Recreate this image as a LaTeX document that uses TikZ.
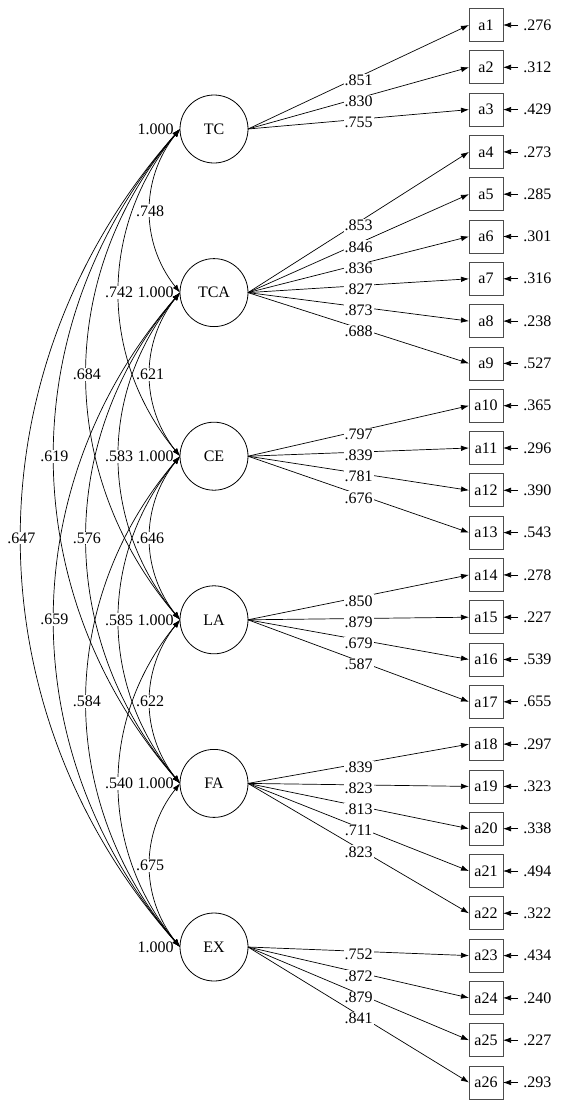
\documentclass[tikz,border=0pt]{standalone}
\usepackage{fontspec}
\setmainfont{Liberation Serif}
\usetikzlibrary{arrows.meta}

\tikzset{
	latent/.style={circle, draw, line width=0.8pt, minimum size=68pt, inner sep=0pt, outer sep=0pt},
	obs/.style={rectangle, draw=black!70, line width=0.8pt, minimum width=34pt, minimum height=33pt, inner sep=0pt, outer sep=0pt},
	load/.style={pos=0.5, fill=white, inner sep=1pt, yshift=-3.5pt},
	cov/.style={pos=0.5, fill=white, inner sep=1pt},
	errlab/.style={anchor=west, inner xsep=5pt, inner ysep=1pt},
	varlab/.style={anchor=east, inner sep=1pt, xshift=-5pt}
}

\begin{document}
\begin{tikzpicture}[x=1pt, y=-1pt, >={Latex[length=8pt,width=5.5pt]}, line width=0.7pt,
	font=\fontsize{16}{18}\selectfont]
	\useasboundingbox (0,0) rectangle (564,1109);
	\def\dy{163.6} % spacing of the factors
	\def\oy{42.3}  % spacing of the items

	% --- factors ---
	\foreach \n [count=\i] in {TC,TCA,CE,LA,FA,EX}
		\node[latent] (\n) at (214,{129+\dy*(\i-1)}) {\n};

	% --- items ---
	\foreach \i in {1,...,26}
		\node[obs] (a\i) at (486,{25+\oy*(\i-1)}) {a\i};

	% --- error terms ---
	\foreach \i/\e in {1/.276,2/.312,3/.429,4/.273,5/.285,6/.301,7/.316,8/.238,9/.527,
		10/.365,11/.296,12/.390,13/.543,14/.278,15/.227,16/.539,17/.655,
		18/.297,19/.323,20/.338,21/.494,22/.322,23/.434,24/.240,25/.227,26/.293}{
		\node[errlab] (e\i) at (518,{25+\oy*(\i-1)}) {\e};
		\draw[->] (e\i.west) -- (a\i.east);
	}

	% --- loadings ---
	\foreach \f/\i/\l in {TC/1/.851,TC/2/.830,TC/3/.755,
		TCA/4/.853,TCA/5/.846,TCA/6/.836,TCA/7/.827,TCA/8/.873,TCA/9/.688,
		CE/10/.797,CE/11/.839,CE/12/.781,CE/13/.676,
		LA/14/.850,LA/15/.879,LA/16/.679,LA/17/.587,
		FA/18/.839,FA/19/.823,FA/20/.813,FA/21/.711,FA/22/.823,
		EX/23/.752,EX/24/.872,EX/25/.879,EX/26/.841}
		\draw[->] (\f.east) -- node[load] {\l} (a\i.west);

	% --- variances ---
	\foreach \n in {TC,TCA,CE,LA,FA,EX}
		\node[varlab] (v\n) at (\n.west) {1.000};

	% --- correlations ---
	\foreach \p/\q/\c/\b in {TC/EX/.647/41.5,
		TC/FA/.619/41,TCA/EX/.659/41,
		TC/LA/.684/40.5,TCA/FA/.576/40.5,CE/EX/.584/40.5,
		TC/CE/.742/39.5,TCA/LA/.583/39.5,CE/FA/.585/39.5,LA/EX/.540/39.5,
		TC/TCA/.748/38.5,TCA/CE/.621/38.5,CE/LA/.646/38.5,LA/FA/.622/38.5,FA/EX/.675/38.5}
		\draw[<->] (\p.west) to[bend right=\b] node[cov] {\c} (\q.west);
\end{tikzpicture}
\end{document}
